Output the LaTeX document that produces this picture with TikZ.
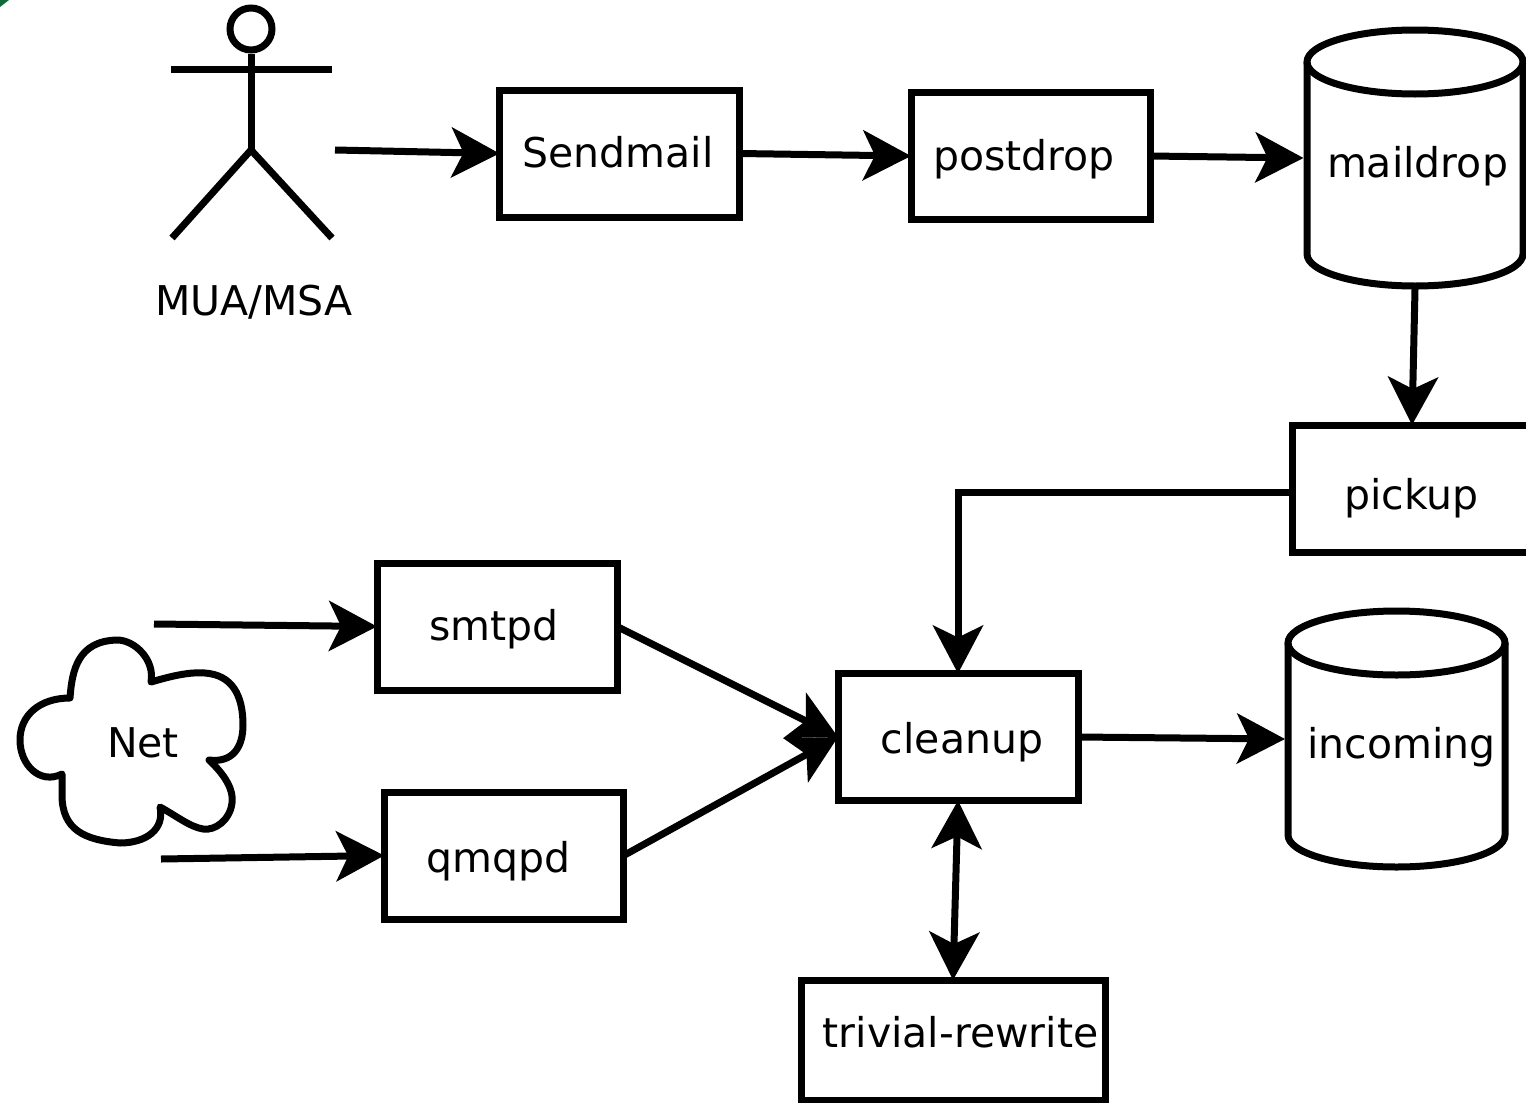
\documentclass[tikz,border=0pt]{standalone}
\usepackage{fontspec}
\setmainfont{DejaVu Sans}
\usetikzlibrary{arrows.meta}
\tikzset{
  x=1pt,y=-1pt,
  stroke/.style={line width=7pt,draw=black},
  procbox/.style={stroke,shape=rectangle,inner sep=0pt,outer sep=0pt,minimum width=240pt,minimum height=127pt},
  lbl/.style={anchor=base,font=\fontsize{41}{41}\selectfont,inner sep=0pt,text=black},
  store/.style={shape=rectangle,inner sep=0pt,outer sep=3pt,minimum width=217pt,minimum height=256pt},
  flow/.style={stroke,-{Stealth[length=48pt,width=50pt,inset=12pt]},shorten >=0pt},
  twoway/.style={stroke,{Stealth[length=48pt,width=50pt,inset=12pt]}-{Stealth[length=48pt,width=50pt,inset=12pt]}},
}
\definecolor{cornergreen}{HTML}{0F6B3C}
\begin{document}
\begin{tikzpicture}
\useasboundingbox (0,0) rectangle (1526,1103);
\clip (0,0) rectangle (1526,1103);
\fill[cornergreen] (0,0) -- (9,0) -- (0,7) -- cycle;

% person
\node[stroke,shape=circle,inner sep=0pt,minimum size=42pt] (head) at (251,29) {};
\coordinate (armL) at (171,69.5);
\coordinate (armR) at (332,69.5);
\coordinate (hip) at (251,150);
\coordinate (legL) at (172,238);
\coordinate (legR) at (332,238);
\draw[stroke] (armL) -- (armR);
\draw[stroke] (head) -- (hip);
\draw[stroke,line join=miter] (legL) -- (hip) -- (legR);
\node[lbl] (mua) at (254,315) {MUA/MSA};
\coordinate (personOut) at (335,150);

% boxes
\node[procbox] (sendmailBox) at (619.5,153.5) {};
\node[lbl] (sendmail) at (618,167.5) {Sendmail};
\node[procbox,minimum width=239pt] (postdropBox) at (1030.5,156) {};
\node[lbl] (postdrop) at (1024,170) {postdrop};
\node[procbox] (pickupBox) at (1412,488.5) {};
\node[lbl] (pickup) at (1411.5,509) {pickup};
\node[procbox] (smtpdBox) at (497,626.5) {};
\node[lbl] (smtpd) at (494,640) {smtpd};
\node[procbox,minimum width=239.5pt] (qmqpdBox) at (504,855.5) {};
\node[lbl] (qmqpd) at (498.5,872) {qmqpd};
\node[procbox] (cleanupBox) at (958,737) {};
\node[lbl] (cleanup) at (962,753.5) {cleanup};
\node[procbox,minimum width=304pt,minimum height=120pt] (trivialBox) at (953,1040) {};
\node[lbl] (trivial) at (960.5,1047) {trivial-rewrite};

% stores
\node[store] (maildropShape) at (1415,158) {};
\draw[stroke,line join=round] (1307,62) -- (1307,254) arc[start angle=180,end angle=0,x radius=108,y radius=32] -- (1523,62);
\draw[stroke] (1415,62) ellipse[x radius=108,y radius=32];
\node[lbl] (maildrop) at (1417.5,177) {maildrop};
\node[store] (incomingShape) at (1396.5,739) {};
\draw[stroke,line join=round] (1288,643) -- (1288,835) arc[start angle=180,end angle=0,x radius=108.5,y radius=32] -- (1505,643);
\draw[stroke] (1396.5,643) ellipse[x radius=108.5,y radius=32];
\node[lbl] (incoming) at (1401.5,758) {incoming};

% cloud
\draw[stroke,line join=round]
  (70,698) .. controls (72,670) and (78,641) .. (117,640)
  .. controls (135,640) and (155,660) .. (151,682)
  .. controls (175,675) and (190,672) .. (205,673)
  .. controls (232,675) and (243,695) .. (243,725)
  .. controls (243,748) and (232,763) .. (209,760)
  .. controls (225,775) and (234,790) .. (232,803)
  .. controls (230,820) and (215,831) .. (203,829)
  .. controls (190,827) and (175,815) .. (160,807)
  .. controls (165,830) and (145,843) .. (120,843)
  .. controls (85,840) and (62,830) .. (62,795)
  -- (62,774)
  .. controls (40,785) and (20,765) .. (20,740)
  .. controls (20,715) and (40,698) .. (70,698) -- cycle;
\node[lbl] (net) at (143,757.5) {Net};
\coordinate (netTop) at (154,624);
\coordinate (netBottom) at (161,859);

% connectors
\draw[flow] (personOut) -- (sendmailBox.west);
\draw[flow] (sendmailBox.east) -- (postdropBox.west);
\draw[flow] (postdropBox.east) -- (maildropShape.west);
\draw[flow] (maildropShape.south) -- (pickupBox.north);
\draw[flow,line join=miter] ([yshift=-3.5pt]pickupBox.west) -| (cleanupBox.north);
\draw[flow] (netTop) -- (smtpdBox.west);
\draw[flow] (netBottom) -- (qmqpdBox.west);
\draw[flow] (smtpdBox.east) -- (cleanupBox.west);
\draw[flow] (qmqpdBox.east) -- (cleanupBox.west);
\draw[flow] (cleanupBox.east) -- (incomingShape.west);
\draw[twoway] (cleanupBox.south) -- (trivialBox.north);
\end{tikzpicture}
\end{document}
